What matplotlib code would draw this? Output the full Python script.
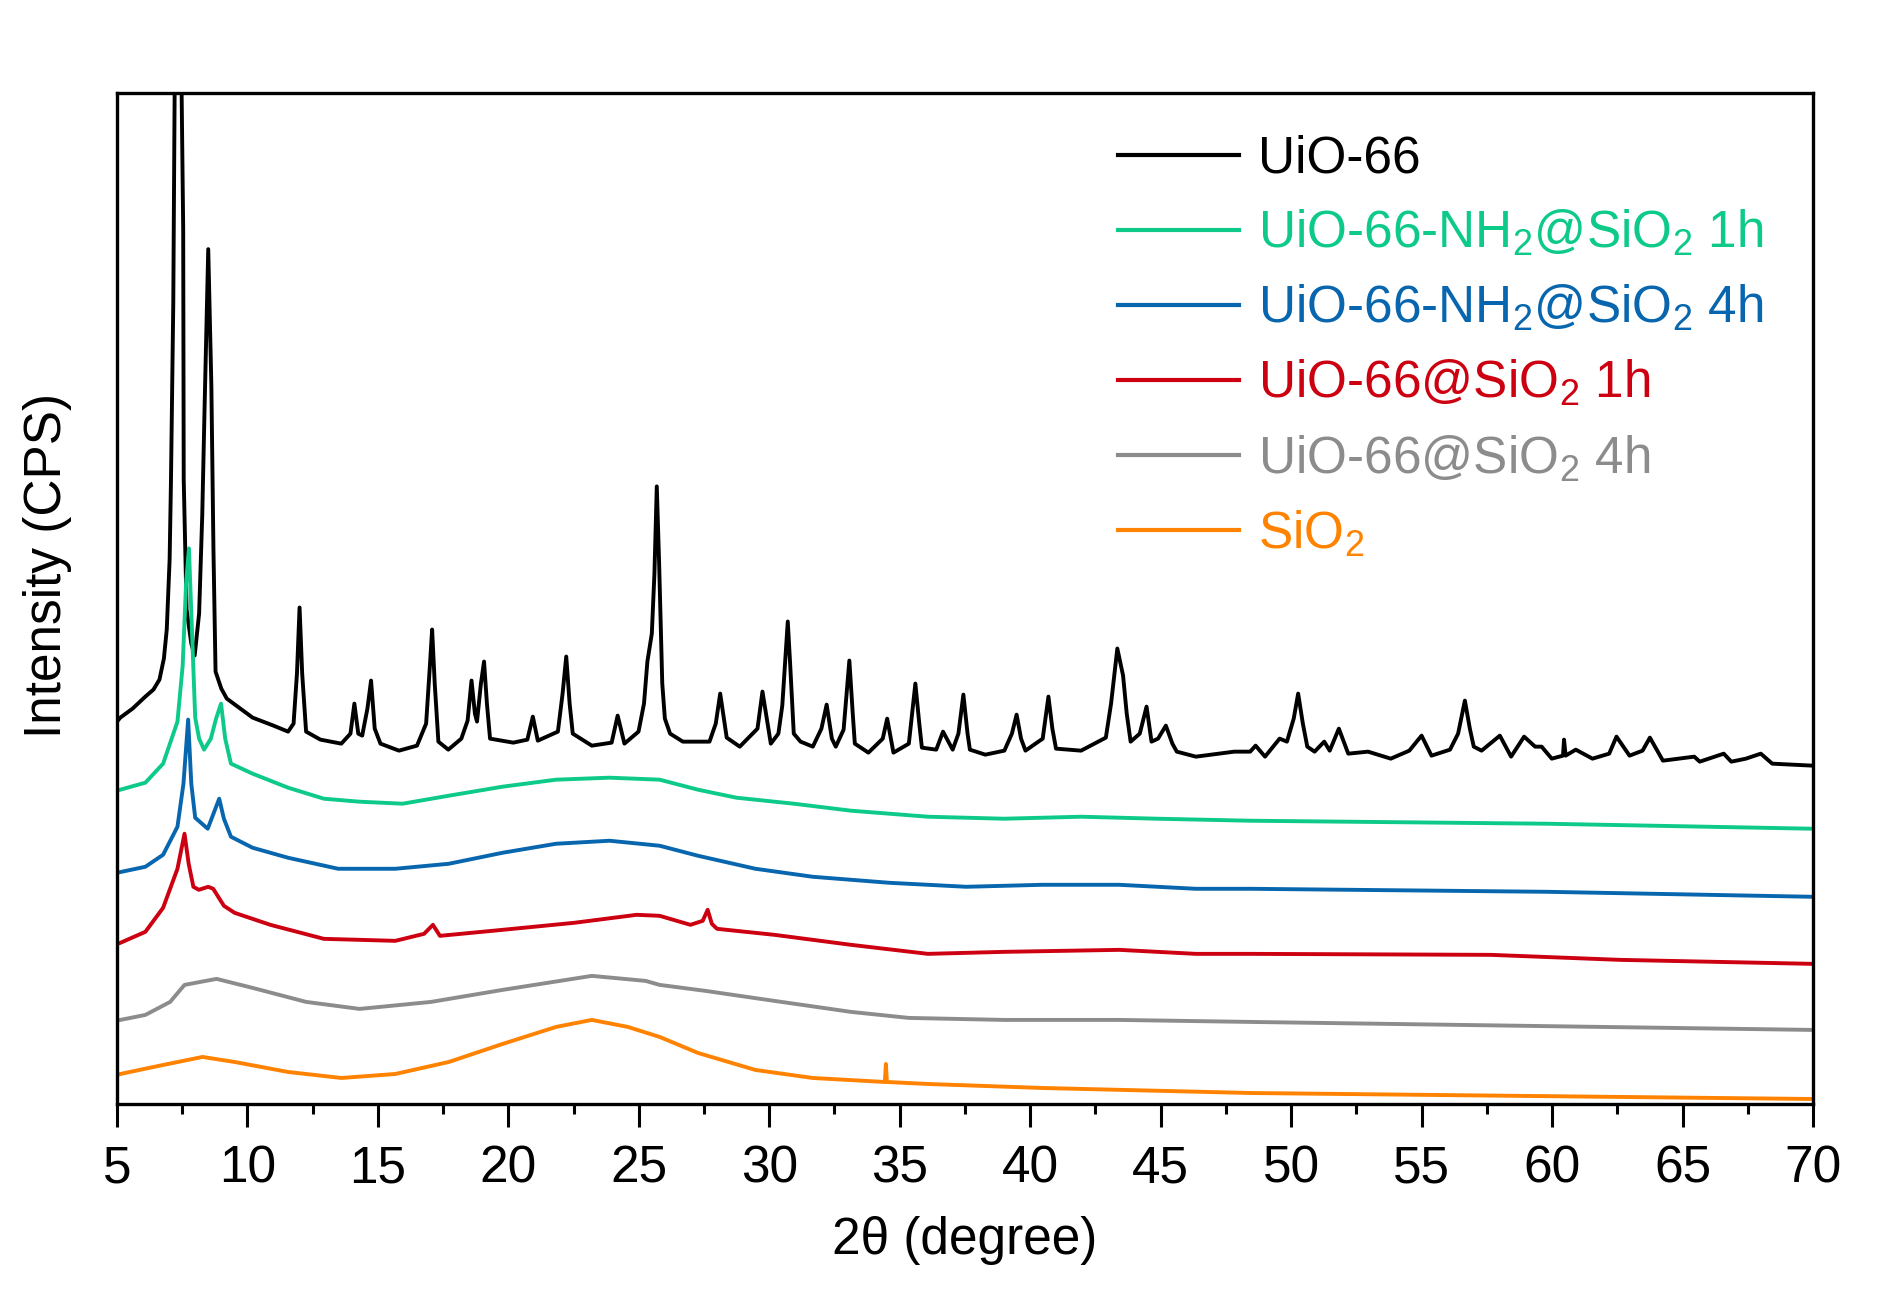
import matplotlib.pyplot as plt

plt.rcParams['font.family'] = ['Liberation Sans', 'DejaVu Sans']
plt.rcParams['mathtext.fontset'] = 'custom'
plt.rcParams['mathtext.rm'] = 'Liberation Sans'
plt.rcParams['mathtext.default'] = 'regular'

# XRD patterns, stacked with offsets as in the original
# (2theta in degree, intensity in arbitrary plot units)
uio66 = [
    (5.0, 382), (5.13, 386), (5.6, 395), (6.09, 407), (6.4, 414), (6.63, 424), (6.8, 445),
    (6.91, 474), (7.02, 544), (7.07, 620), (7.16, 800), (7.22, 1050), (7.32, 1400),
    (7.42, 1200), (7.48, 1010), (7.54, 874), (7.56, 624), (7.67, 494), (7.85, 460),
    (7.98, 448), (8.15, 490), (8.27, 588), (8.36, 696), (8.5, 854), (8.62, 717), (8.7, 553),
    (8.78, 432), (9.0, 415), (9.21, 405), (10.2, 386), (11.0, 378), (11.56, 372), (11.77, 380),
    (11.9, 430), (12.0, 496), (12.1, 430), (12.25, 372), (12.8, 364), (13.6, 360), (13.95, 370),
    (14.1, 400), (14.25, 370), (14.4, 368), (14.6, 395), (14.74, 423), (14.88, 375), (15.1, 360),
    (15.81, 353), (16.5, 358), (16.85, 380), (17.0, 440), (17.08, 474), (17.18, 420),
    (17.32, 362), (17.7, 354), (18.2, 365), (18.44, 383), (18.59, 423), (18.72, 390),
    (18.8, 382), (18.95, 420), (19.07, 442), (19.18, 400), (19.3, 365), (20.19, 361),
    (20.73, 364), (20.94, 387), (21.13, 363), (21.9, 372), (22.08, 410), (22.22, 447),
    (22.35, 400), (22.47, 370), (23.2, 358), (23.96, 361), (24.19, 388), (24.45, 360),
    (24.99, 372), (25.2, 400), (25.33, 442), (25.5, 470), (25.6, 530), (25.69, 617),
    (25.78, 540), (25.9, 420), (26.0, 385), (26.2, 370), (26.69, 362), (27.71, 362),
    (27.95, 380), (28.12, 410), (28.37, 366), (28.87, 357), (29.55, 375), (29.74, 412),
    (30.06, 360), (30.35, 370), (30.5, 398), (30.71, 482), (30.8, 440), (30.94, 370),
    (31.2, 362), (31.67, 357), (32.0, 375), (32.2, 399), (32.4, 365), (32.55, 357),
    (32.85, 374), (33.07, 443), (33.2, 390), (33.28, 360), (33.8, 351), (34.35, 365),
    (34.52, 385), (34.76, 351), (35.35, 360), (35.6, 420), (35.75, 380), (35.85, 356),
    (36.4, 354), (36.66, 372), (37.03, 354), (37.25, 370), (37.44, 409), (37.6, 370),
    (37.69, 354), (38.28, 349), (39.01, 353), (39.3, 370), (39.48, 389), (39.65, 365),
    (39.82, 353), (40.48, 365), (40.7, 407), (40.85, 375), (40.99, 355), (41.95, 353),
    (42.9, 366), (43.1, 400), (43.34, 455), (43.56, 428), (43.7, 390), (43.85, 362),
    (44.2, 370), (44.46, 397), (44.65, 362), (44.9, 365), (45.2, 378), (45.45, 360),
    (45.62, 352), (46.35, 347), (47.82, 352), (48.43, 352), (48.64, 358), (49.0, 347),
    (49.56, 365), (49.84, 362), (50.1, 385), (50.27, 410), (50.45, 380), (50.62, 357),
    (50.9, 352), (51.27, 362), (51.48, 353), (51.83, 375), (52.19, 350), (52.95, 352),
    (53.82, 345), (54.53, 353), (55.0, 368), (55.38, 348), (56.09, 354), (56.4, 370),
    (56.66, 403), (56.85, 375), (57.0, 357), (57.3, 353), (58.0, 368), (58.43, 347),
    (58.93, 367), (59.35, 357), (59.6, 357), (59.99, 345), (60.42, 348), (60.46, 364),
    (60.52, 348), (60.91, 354), (61.55, 345), (62.19, 350), (62.47, 367), (62.97, 348),
    (63.47, 353), (63.75, 366), (64.25, 343), (65.45, 347), (65.66, 342), (66.58, 350),
    (66.87, 342), (67.43, 345), (68.0, 350), (68.44, 340), (70.0, 338),
]

nh2_1h = [
    (5.0, 313), (5.13, 314), (6.09, 321), (6.77, 340), (7.32, 382), (7.52, 438), (7.65, 520),
    (7.76, 555), (7.88, 470), (8.0, 386), (8.15, 365), (8.34, 354), (8.6, 365), (8.8, 385),
    (8.99, 400), (9.15, 365), (9.37, 340), (10.2, 330), (11.56, 316), (12.93, 305), (14.3, 302),
    (15.95, 300), (17.72, 308), (19.78, 317), (21.83, 324), (23.88, 326), (25.8, 324),
    (27.27, 314), (28.74, 306), (30.94, 300), (33.14, 293), (36.08, 287), (39.0, 285),
    (41.95, 287), (44.88, 285), (48.43, 283), (59.8, 280), (70.0, 275),
]

nh2_4h = [
    (5.0, 231), (6.09, 237), (6.77, 249), (7.32, 277), (7.55, 320), (7.73, 384), (7.85, 320),
    (8.0, 286), (8.48, 275), (8.7, 290), (8.92, 305), (9.1, 285), (9.37, 267), (10.2, 256),
    (11.56, 246), (13.48, 235), (15.67, 235), (17.72, 240), (19.78, 251), (21.83, 260),
    (23.88, 263), (25.8, 258), (27.27, 248), (29.47, 235), (31.67, 227), (34.6, 221),
    (37.55, 217), (40.48, 219), (43.41, 219), (46.35, 215), (48.43, 215), (59.8, 212),
    (70.0, 207),
]

sio2_1h = [
    (5.0, 160), (5.13, 161), (6.09, 172), (6.77, 196), (7.32, 235), (7.59, 270), (7.75, 240),
    (7.93, 217), (8.14, 214), (8.5, 217), (8.69, 215), (9.1, 198), (9.51, 191), (10.88, 179),
    (12.93, 165), (15.67, 163), (16.77, 170), (17.11, 179), (17.38, 168), (19.78, 174),
    (22.52, 181), (24.92, 189), (25.8, 188), (26.98, 179), (27.45, 183), (27.64, 194),
    (27.8, 180), (28.0, 175), (30.2, 169), (33.14, 159), (36.08, 150), (39.0, 152),
    (43.41, 154), (46.35, 150), (48.43, 150), (57.65, 149), (62.6, 144), (70.0, 140),
]

sio2_4h = [
    (5.0, 83), (5.13, 84), (6.09, 89), (7.04, 102), (7.59, 119), (8.82, 125), (10.2, 116),
    (12.25, 102), (14.3, 95), (17.04, 102), (19.78, 114), (23.2, 128), (25.26, 123),
    (25.8, 119), (27.56, 113), (30.2, 103), (33.14, 92), (35.35, 86), (39.0, 84), (43.41, 84),
    (48.43, 82), (70.0, 74),
]

sio2 = [
    (5.0, 29), (5.13, 30), (6.77, 39), (8.28, 47), (9.51, 42), (11.56, 32), (13.6, 26),
    (15.67, 30), (17.72, 42), (19.78, 60), (21.83, 77), (23.2, 84), (24.58, 77), (25.8, 67),
    (27.27, 51), (29.47, 34), (31.67, 26), (34.43, 22), (34.47, 40), (34.51, 22), (36.08, 20),
    (40.48, 16), (48.43, 11), (70.0, 5),
]

labels = ['UiO-66', 'UiO-66-NH$_2$@SiO$_2$ 1h', 'UiO-66-NH$_2$@SiO$_2$ 4h',
          'UiO-66@SiO$_2$ 1h', 'UiO-66@SiO$_2$ 4h', 'SiO$_2$']
colors = ['#000000', '#0dca88', '#0866ae', '#cc0010', '#8c8c8c', '#ff8200']
series = [uio66, nh2_1h, nh2_4h, sio2_1h, sio2_4h, sio2]

fig = plt.figure(figsize=(18.98, 12.97), dpi=100)
ax = fig.add_axes([0.0616, 0.1488, 0.8936, 0.7795])

for data, lab, col in zip(series, labels, colors):
    tt = [p[0] for p in data]
    inten = [p[1] for p in data]
    ax.plot(tt, inten, color=col, lw=2.8, label=lab)

ax.set_xlim(5, 70)
ax.set_ylim(0, 1010)
ax.set_xticks(range(5, 71, 5))
ax.set_xticks([x + 2.5 for x in range(5, 70, 5)], minor=True)
ax.set_yticks([])
ax.tick_params(axis='x', which='major', direction='out', length=16.5, width=2.2,
               labelsize=37, pad=13)
ax.tick_params(axis='x', which='minor', direction='out', length=7.5, width=2.2)
for sp in ax.spines.values():
    sp.set_linewidth(2.4)

ax.set_xlabel('2θ (degree)', fontsize=37, labelpad=16)
ax.set_ylabel('Intensity (CPS)', fontsize=37, va='center')
ax.yaxis.set_label_coords(-0.041, 0.533)

leg = ax.legend(loc='upper left', bbox_to_anchor=(0.589, 0.896),
                bbox_transform=fig.transFigure, frameon=False, fontsize=37,
                handlelength=2.35, handletextpad=0.37, labelspacing=0.48,
                borderpad=0, borderaxespad=0)
for txt, col in zip(leg.get_texts(), colors):
    txt.set_color(col)
for ln in leg.get_lines():
    ln.set_linewidth(3)

fig.savefig('out.png', dpi=100)
